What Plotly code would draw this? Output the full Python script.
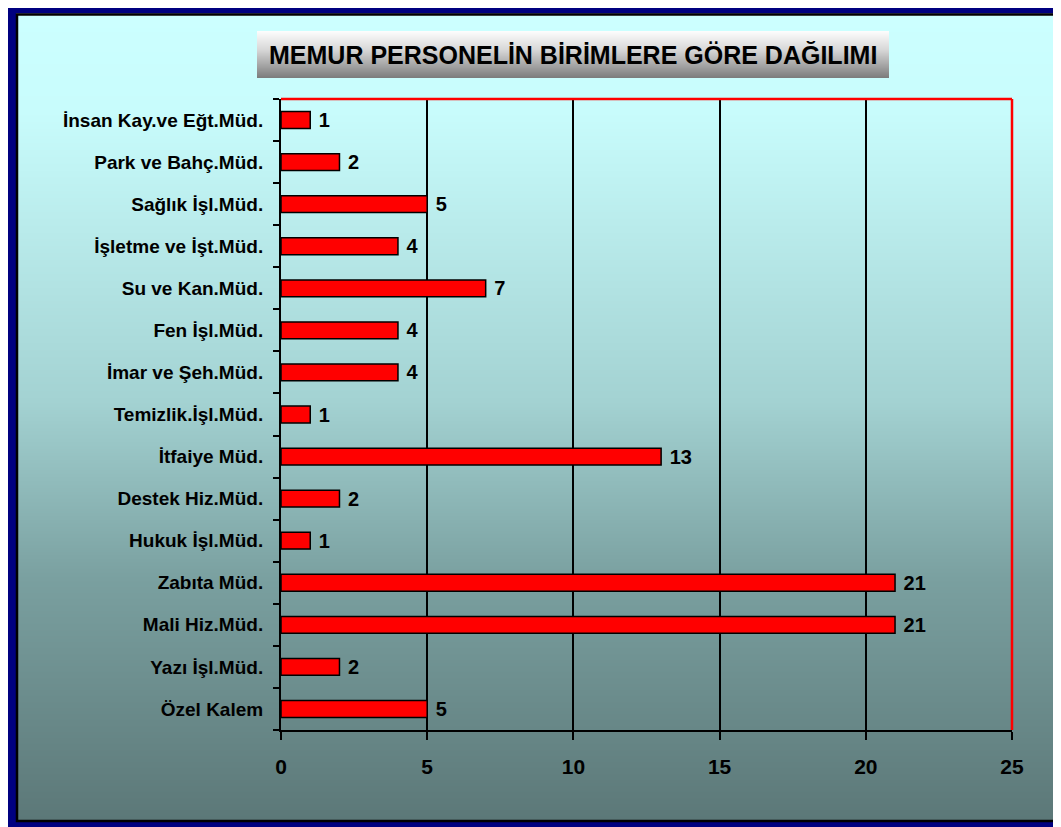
import base64, struct, zlib
import plotly.graph_objects as go

# ---------------- data ----------------
categories = [
    "Özel Kalem", "Yazı İşl.Müd.", "Mali Hiz.Müd.", "Zabıta Müd.",
    "Hukuk İşl.Müd.", "Destek Hiz.Müd.", "İtfaiye Müd.", "Temizlik.İşl.Müd.",
    "İmar ve Şeh.Müd.", "Fen İşl.Müd.", "Su ve Kan.Müd.", "İşletme ve İşt.Müd.",
    "Sağlık İşl.Müd.", "Park ve Bahç.Müd.", "İnsan Kay.ve Eğt.Müd.",
]
values = [5, 2, 21, 21, 1, 2, 13, 1, 4, 4, 7, 4, 5, 2, 1]
x_ticks = [0, 5, 10, 15, 20, 25]
title_text = "MEMUR PERSONELİN BİRİMLERE GÖRE DAĞILIMI"

# ---------------- geometry helpers ----------------
OFF = 8  # page body margin in the browser
W, H = 1061 - OFF, 827 - OFF
PL, PR, PT, PB = 281, 1012, 99, 730  # plot area in page pixels


def px(xp):
    return (xp - PL) / (PR - PL)


def py(yp):
    return (PB - yp) / (PB - PT)


def lerp_stops(stops, n):
    out = []
    for i in range(n):
        t = i / (n - 1)
        for (t0, c0), (t1, c1) in zip(stops[:-1], stops[1:]):
            if t0 <= t <= t1:
                f = 0 if t1 == t0 else (t - t0) / (t1 - t0)
                out.append(tuple(int(round(a + (b - a) * f)) for a, b in zip(c0, c1)))
                break
    return out


def png_uri(rows):
    raw = b"".join(b"\x00" + bytes(rgb) for rgb in rows)

    def chunk(tag, data):
        c = struct.pack(">I", len(data)) + tag + data
        return c + struct.pack(">I", zlib.crc32(tag + data) & 0xFFFFFFFF)

    png = b"\x89PNG\r\n\x1a\n"
    png += chunk(b"IHDR", struct.pack(">IIBBBBB", 1, len(rows), 8, 2, 0, 0, 0))
    png += chunk(b"IDAT", zlib.compress(raw, 9))
    png += chunk(b"IEND", b"")
    return "data:image/png;base64," + base64.b64encode(png).decode()


bg_rows = lerp_stops([(0.0, (204, 255, 255)), (0.12, (200, 252, 252)),
                      (0.48, (163, 210, 210)), (0.70, (122, 160, 160)),
                      (1.0, (92, 120, 120))], 805)
title_rows = lerp_stops([(0.0, (252, 252, 252)), (0.4, (215, 215, 215)),
                         (1.0, (125, 125, 125))], 47)

FONT = "Liberation Sans, Arial, sans-serif"

fig = go.Figure()
fig.add_trace(go.Bar(
    x=values, y=categories, orientation="h",
    marker=dict(color="#FF0000", line=dict(color="#000000", width=1.5)),
    width=0.4,
    text=values, texttemplate=" %{x}", textposition="outside",
    constraintext="none", cliponaxis=False,
    textfont=dict(family=FONT, size=20, color="#000000", weight="bold"),
    hoverinfo="x+y",
))

shapes = []
# navy frame pieces
for x0, y0, x1, y1 in [(7, 4, 1070, 13.5), (7, 4, 16, 830), (7, 822, 1070, 830)]:
    shapes.append(dict(type="rect", xref="paper", yref="paper",
                       x0=px(x0), x1=px(x1), y0=py(y0), y1=py(y1),
                       fillcolor="#000080", line=dict(width=0), layer="below"))
# black inner frame line
shapes.append(dict(type="rect", xref="paper", yref="paper",
                   x0=px(17), x1=px(1059.5), y0=py(14.5), y1=py(821),
                   line=dict(color="#000000", width=2.5), layer="below"))
# red top and right border of plot area
shapes.append(dict(type="line", xref="paper", yref="paper",
                   x0=0, x1=1, y0=1, y1=1, line=dict(color="#FF0000", width=2.5), layer="above"))
shapes.append(dict(type="line", xref="paper", yref="paper",
                   x0=1, x1=1, y0=0, y1=1, line=dict(color="#FF0000", width=2.5), layer="above"))

images = [
    dict(source=png_uri(bg_rows), xref="paper", yref="paper",
         x=px(18), y=py(15.5), sizex=(1058 - 18) / (PR - PL), sizey=(820 - 15.5) / (PB - PT),
         sizing="stretch", xanchor="left", yanchor="top", layer="below"),
    dict(source=png_uri(title_rows), xref="paper", yref="paper",
         x=px(257), y=py(31), sizex=(889 - 257) / (PR - PL), sizey=(78 - 31) / (PB - PT),
         sizing="stretch", xanchor="left", yanchor="top", layer="below"),
]

fig.update_layout(
    width=W, height=H, autosize=False,
    margin=dict(l=PL - OFF, r=1061 - PR, t=PT - OFF, b=827 - PB, pad=0),
    paper_bgcolor="#FFFFFF", plot_bgcolor="#C0C0C0",
    showlegend=False, bargap=0.6,
    shapes=shapes, images=images,
    annotations=[dict(text=title_text, xref="paper", yref="paper",
                      x=px(573), y=py(55), xanchor="center", yanchor="middle",
                      showarrow=False,
                      font=dict(family=FONT, size=25, color="#000000", weight="bold"))],
    xaxis=dict(range=[0, 25], tickvals=x_ticks, ticktext=[str(v) for v in x_ticks],
               showgrid=True, gridcolor="#000000", gridwidth=1.5,
               zeroline=False, showline=True, linecolor="#000000", linewidth=2,
               ticks="outside", ticklen=8, tickwidth=2, tickcolor="#000000",
               ticklabelstandoff=9,
               tickfont=dict(family=FONT, size=21, color="#000000", weight="bold"),
               fixedrange=True),
    yaxis=dict(type="category", categoryorder="array", categoryarray=categories,
               showgrid=False, zeroline=False, showline=True, linecolor="#000000",
               linewidth=2, ticks="outside", tickson="boundaries", ticklen=6,
               tickwidth=2, tickcolor="#000000", ticklabelstandoff=12,
               tickfont=dict(family=FONT, size=19, color="#000000", weight="bold"),
               fixedrange=True),
)

fig.write_html("out.html")
